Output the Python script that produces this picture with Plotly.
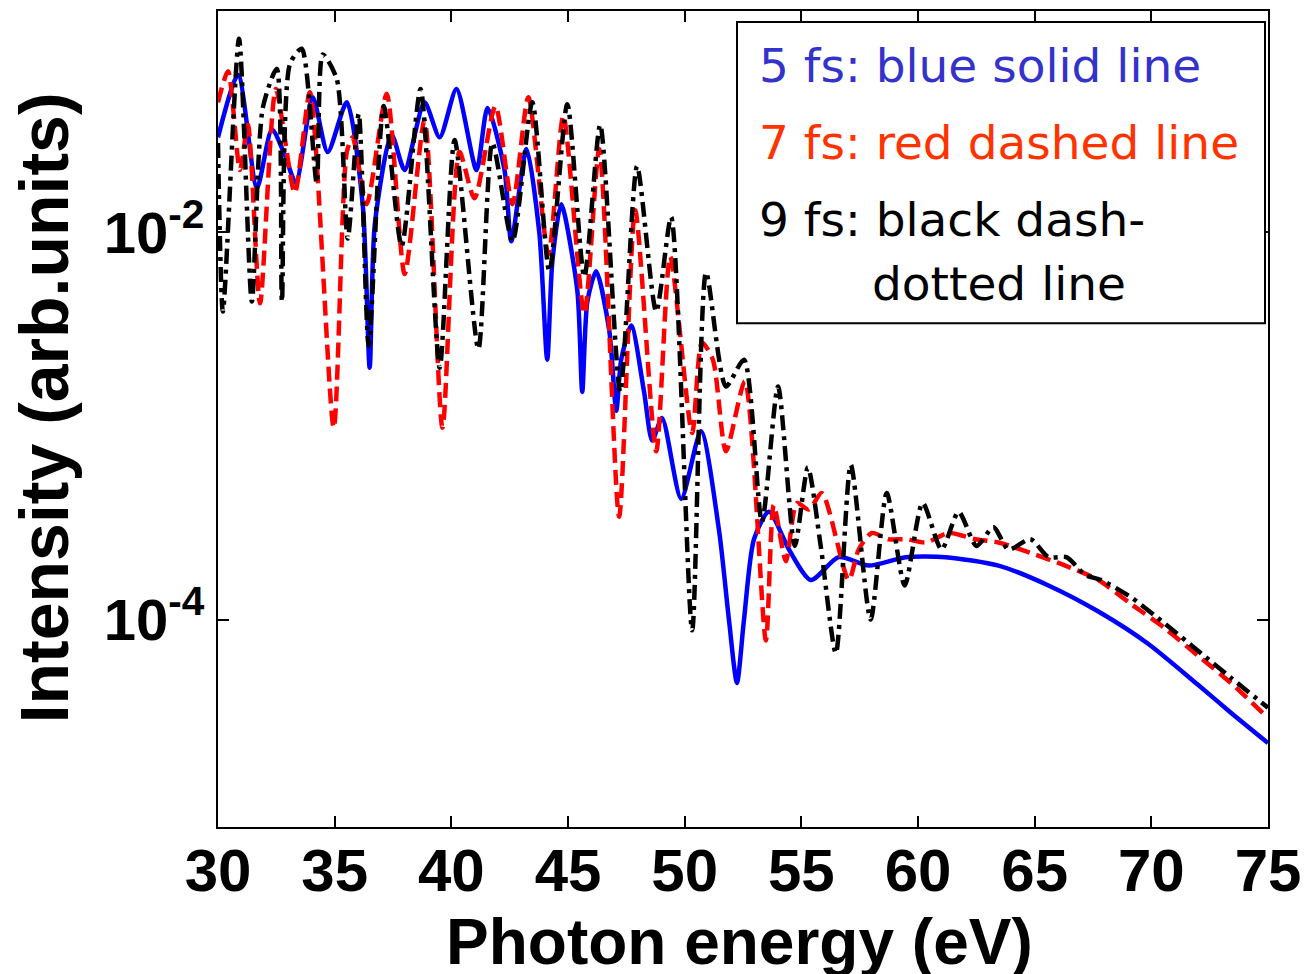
import plotly.graph_objects as go

# ---- data (photon energy in eV, intensity in arb. units) ----
e_5fs = [30.00, 30.86, 31.67, 32.31, 32.87, 33.34, 34.06, 34.70, 35.52, 36.20, 36.50, 36.72,
         37.44, 38.00, 38.85, 39.50, 40.22, 41.08, 41.55, 42.28, 42.57, 43.22, 43.77, 44.11,
         44.33, 44.71, 45.40, 45.61, 45.83, 46.21, 46.77, 47.07, 47.28, 47.71, 48.26, 48.61,
         49.03, 49.85, 50.70, 51.47, 51.90, 52.24, 52.54, 52.97, 53.61, 54.47, 55.41, 56.60,
         57.89, 59.47, 61.18, 63.45, 65.59, 67.73, 69.86, 72.00, 73.41, 75.00]
i_5fs = [3.1e-2, 6.5e-2, 1.7e-2, 3.4e-2, 2.5e-2, 1.8e-2, 5.0e-2, 2.6e-2, 4.7e-2, 1.4e-2, 2.0e-3, 1.1e-2,
         3.2e-2, 2.1e-2, 4.7e-2, 3.1e-2, 5.5e-2, 2.1e-2, 4.4e-2, 2.1e-2, 9.0e-3, 2.7e-2, 1.0e-2, 2.2e-3,
         7.1e-3, 1.4e-2, 5.0e-3, 1.5e-3, 4.4e-3, 6.3e-3, 3.1e-3, 1.2e-3, 2.2e-3, 3.3e-3, 1.5e-3, 8.4e-4,
         1.1e-3, 4.2e-4, 9.4e-4, 2.9e-4, 9.9e-5, 4.7e-5, 9.9e-5, 2.6e-4, 3.6e-4, 2.3e-4, 1.6e-4, 2.1e-4,
         1.9e-4, 2.1e-4, 2.1e-4, 1.9e-4, 1.5e-4, 1.1e-4, 7.5e-5, 4.6e-5, 3.3e-5, 2.3e-5]

e_7fs = [30.00, 30.43, 30.94, 31.28, 31.80, 32.48, 33.29, 33.94, 34.96, 35.52, 35.77, 36.37,
         37.23, 38.00, 38.85, 39.62, 40.35, 40.99, 41.89, 42.62, 43.30, 44.16, 44.80, 45.70,
         46.34, 47.19, 47.88, 48.78, 49.38, 50.32, 50.74, 51.21, 51.77, 52.58, 53.48, 53.82,
         54.34, 54.81, 55.32, 55.88, 57.03, 57.46, 58.02, 58.74, 59.51, 60.33, 61.31, 62.46,
         63.45, 64.86, 66.31, 67.73, 69.14, 70.59, 72.00, 73.41, 75.00]
i_7fs = [4.7e-2, 6.8e-2, 2.1e-2, 3.6e-2, 4.3e-3, 5.5e-2, 1.6e-2, 5.3e-2, 9.8e-4, 2.6e-2, 3.1e-2, 1.4e-2,
         5.2e-2, 6.1e-3, 3.8e-2, 9.8e-4, 2.6e-2, 1.5e-2, 4.5e-2, 1.4e-2, 5.0e-2, 7.7e-3, 4.0e-2, 3.8e-3,
         2.7e-2, 3.4e-4, 1.3e-2, 7.4e-4, 7.5e-3, 9.2e-4, 2.7e-3, 2.2e-3, 7.4e-4, 1.7e-3, 7.8e-5, 3.9e-4,
         2.0e-4, 4.0e-4, 3.7e-4, 4.5e-4, 1.6e-4, 2.3e-4, 2.8e-4, 2.6e-4, 2.6e-4, 2.5e-4, 2.8e-4, 2.6e-4,
         2.5e-4, 2.2e-4, 1.9e-4, 1.6e-4, 1.2e-4, 9.0e-5, 6.5e-5, 4.7e-5, 3.1e-5]

e_9fs = [30.00, 30.21, 30.90, 31.45, 31.92, 32.52, 32.74, 33.08, 33.59, 34.23, 34.49, 35.09,
         35.56, 36.03, 36.46, 37.10, 37.87, 38.68, 39.50, 40.14, 41.16, 41.76, 42.62, 43.47,
         44.20, 44.97, 45.70, 46.38, 47.24, 47.96, 48.78, 49.42, 50.32, 50.92, 51.77, 52.54,
         53.31, 54.00, 54.72, 55.28, 55.83, 56.48, 57.12, 57.97, 58.66, 59.43, 60.20, 61.01,
         61.74, 62.51, 63.23, 63.88, 64.82, 65.59, 66.36, 67.17, 67.85, 69.14, 70.59, 72.00,
         73.41, 75.00]
i_9fs = [2.9e-2, 3.9e-3, 1.0e-1, 4.4e-3, 4.4e-2, 7.0e-2, 4.4e-3, 7.4e-2, 8.9e-2, 1.8e-2, 8.3e-2, 6.2e-2,
         9.3e-3, 4.1e-2, 2.6e-3, 4.5e-2, 8.5e-3, 5.5e-2, 2.0e-3, 3.0e-2, 2.5e-3, 2.9e-2, 9.0e-3, 4.7e-2,
         6.3e-3, 4.6e-2, 5.9e-3, 3.6e-2, 1.5e-3, 2.2e-2, 3.9e-3, 1.2e-2, 8.8e-5, 6.2e-3, 1.6e-3, 2.2e-3,
         3.2e-4, 1.6e-3, 2.4e-4, 6.1e-4, 2.4e-4, 6.7e-5, 6.3e-4, 1.0e-4, 4.5e-4, 1.5e-4, 4.0e-4, 2.3e-4,
         3.6e-4, 2.4e-4, 3.0e-4, 2.3e-4, 2.6e-4, 2.1e-4, 2.1e-4, 1.7e-4, 1.6e-4, 1.3e-4, 9.5e-5, 6.9e-5,
         5.0e-5, 3.5e-5]

x_ticks = [30, 35, 40, 45, 50, 55, 60, 65, 70, 75]
y_ticks = [1e-4, 1e-2]
y_ticktext = ["10<sup>-4</sup>", "10<sup>-2</sup>"]

legend_lines = ["5 fs: blue solid line", "7 fs: red dashed line", "9 fs: black dash-", "dotted line"]
legend_colors = ["#3333CC", "#FF3300", "#000000", "#000000"]

fig = go.Figure()
fig.add_trace(go.Scatter(x=e_5fs, y=i_5fs, mode="lines",
                         line=dict(color="#0000FF", width=4.5, shape="spline", smoothing=0.7)))
fig.add_trace(go.Scatter(x=e_7fs, y=i_7fs, mode="lines",
                         line=dict(color="#FF0000", width=4.5, dash="15px,7px", shape="spline", smoothing=0.7)))
fig.add_trace(go.Scatter(x=e_9fs, y=i_9fs, mode="lines",
                         line=dict(color="#000000", width=4.5, dash="15px,6px,4px,6px", shape="spline", smoothing=0.7)))

L, R, T, B = 218, 40, 9, 147
W, H = 1310, 974
pw, ph = W - L - R, H - T - B

def px_x(p):
    return (p - L) / pw

def px_y(p):
    return (H - B - p) / ph

fig.update_layout(
    width=W, height=H,
    margin=dict(l=L, r=R, t=T, b=B),
    paper_bgcolor="white", plot_bgcolor="white",
    showlegend=False,
    xaxis=dict(range=[30, 75], tickvals=x_ticks, ticks="inside", ticklen=11, tickwidth=1.5,
               tickcolor="black", showline=True, linecolor="black", linewidth=2, mirror="ticks",
               showgrid=False, zeroline=False, ticklabelstandoff=-10,
               tickfont=dict(family="Liberation Sans", size=60, color="black", weight="bold")),
    yaxis=dict(type="log", range=[-5.072, -0.856], tickvals=y_ticks, ticktext=y_ticktext,
               ticks="inside", ticklen=11, tickwidth=1.5, tickcolor="black",
               showline=True, linecolor="black", linewidth=2, mirror="ticks",
               showgrid=False, zeroline=False,
               tickfont=dict(family="Liberation Sans", size=58, color="black", weight="bold")),
)

# axis titles
fig.add_annotation(text="<b>Photon energy (eV)</b>", xref="paper", yref="paper",
                   x=px_x(740), y=px_y(942), xanchor="center", yanchor="middle", showarrow=False,
                   font=dict(family="Liberation Sans", size=64, color="black"))
fig.add_annotation(text="<b>Intensity (arb.units)</b>", xref="paper", yref="paper",
                   x=px_x(44), y=px_y(407), xanchor="center", yanchor="middle", showarrow=False,
                   textangle=-90, font=dict(family="Liberation Sans", size=68, color="black"))

# legend box
fig.add_shape(type="rect", xref="paper", yref="paper",
              x0=px_x(738), x1=px_x(1267), y0=px_y(322), y1=px_y(20),
              line=dict(color="black", width=2), fillcolor="white", layer="above")
legend_x = [758, 758, 758, 871]
legend_y = [64, 141, 218, 282]
for txt, col, lx, ly in zip(legend_lines, legend_colors, legend_x, legend_y):
    fig.add_annotation(text=txt, xref="paper", yref="paper", x=px_x(lx), y=px_y(ly),
                       xanchor="left", yanchor="middle", showarrow=False,
                       font=dict(family="DejaVu Sans", size=47, color=col))

fig.write_html("out.html")
